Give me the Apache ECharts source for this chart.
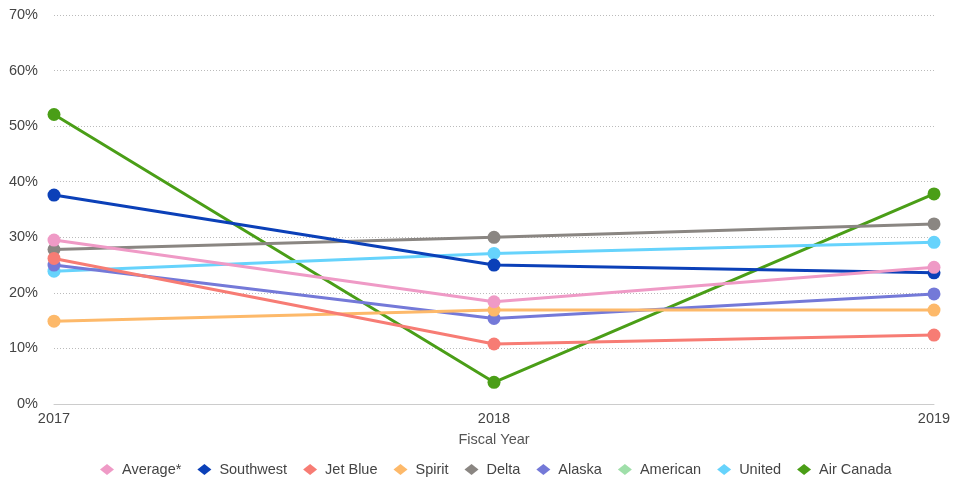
<!DOCTYPE html>
<html>
<head>
<meta charset="utf-8">
<script src="https://cdn.jsdelivr.net/npm/echarts@6/dist/echarts.min.js"></script>
<style>html,body{margin:0;padding:0;background:#fff;}#c{width:956px;height:483px;}</style>
</head>
<body>
<div id="c"></div>
<script>
const years = ['2017', '2018', '2019'];
const seriesNames = ['Average*', 'Southwest', 'Jet Blue', 'Spirit', 'Delta', 'Alaska', 'American', 'United', 'Air Canada'];
const colors = ['#ef9ac6', '#0b40b8', '#f77c74', '#fdb96a', '#8a8682', '#7479d8', '#9fdfa9', '#66d3fc', '#4a9e17'];
const average = [29.5, 18.4, 24.6];
const southwest = [37.6, 25.0, 23.6];
const jetBlue = [26.2, 10.8, 12.4];
const spirit = [14.9, 16.9, 16.9];
const delta = [27.8, 30.0, 32.4];
const alaska = [25.0, 15.4, 19.8];
const american = [null, null, null];
const united = [23.9, 27.1, 29.1];
const airCanada = [52.1, 3.9, 37.8];
const yTicks = [0, 10, 20, 30, 40, 50, 60, 70];
const values = [average, southwest, jetBlue, spirit, delta, alaska, american, united, airCanada];

const chart = echarts.init(document.getElementById('c'));
const font = 'Liberation Sans, Arial, sans-serif';
chart.setOption({
  animation: false,
  color: colors,
  grid: { left: 54, right: 22, top: 15, bottom: 79 },
  legend: {
    bottom: 6,
    left: 100,
    padding: 0,
    icon: 'diamond',
    itemWidth: 14,
    itemHeight: 11,
    itemGap: 16,
    textStyle: { fontFamily: font, fontSize: 14.5, color: '#444', padding: [0, 0, 0, 3] },
    data: seriesNames
  },
  xAxis: {
    type: 'category',
    data: years,
    boundaryGap: false,
    name: 'Fiscal Year',
    nameLocation: 'middle',
    nameGap: 28,
    nameTextStyle: { fontFamily: font, fontSize: 14.5, color: '#555' },
    axisLine: { lineStyle: { color: '#ccc' } },
    axisTick: { show: false },
    axisLabel: { fontFamily: font, fontSize: 14.5, color: '#444', margin: 7 }
  },
  yAxis: {
    type: 'value',
    min: yTicks[0],
    max: yTicks[yTicks.length - 1],
    interval: 10,
    axisLine: { show: false },
    axisTick: { show: false },
    splitLine: { lineStyle: { color: '#bbb', type: [1, 2], width: 1 } },
    axisLabel: { fontFamily: font, fontSize: 14.5, color: '#444', margin: 16, formatter: v => v + '%' }
  },
  series: seriesNames.map((n, i) => ({
    name: n,
    type: 'line',
    data: values[i],
    symbol: 'circle',
    symbolSize: 13,
    lineStyle: { width: 3 },
    itemStyle: { color: colors[i] },
    z: 10 - i
  }))
});
</script>
</body>
</html>
